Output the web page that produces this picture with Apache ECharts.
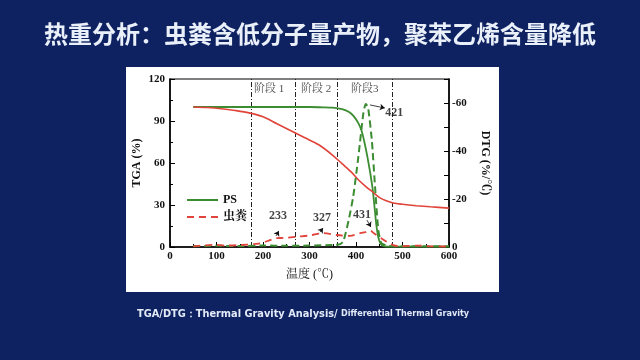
<!DOCTYPE html>
<html><head><meta charset="utf-8">
<script src="https://cdn.jsdelivr.net/npm/echarts@6/dist/echarts.min.js"></script>
<style>html,body{margin:0;padding:0;background:#0e2160;}#c{width:640px;height:360px;}</style>
</head><body><div id="c"></div>
<script>
// ---- data ----
const titleText = '热重分析：虫粪含低分子量产物，聚苯乙烯含量降低';
const footMain = 'TGA/DTG：Thermal Gravity Analysis/ ';
const footSmall = 'Differential Thermal Gravity';
const xTicks = [0, 100, 200, 300, 400, 500, 600];
const tgaTicks = [0, 30, 60, 90, 120];
const dtgTicks = [-60, -40, -20, 0];

const tempPS = [50, 100, 150, 200, 250, 300, 330, 350, 370, 385, 395, 405, 412, 418, 423, 428, 432, 436, 440, 444, 448, 452, 456, 462, 480, 520, 600];
const tgaPS  = [100, 100, 100, 100, 100, 100, 99.8, 99.5, 98.5, 96.5, 93.5, 88.5, 83, 75, 67, 58, 50, 41, 28, 15, 7, 3, 1.2, 0.5, 0.3, 0.2, 0.2];

const tempFe = [50, 80, 110, 140, 170, 200, 230, 260, 290, 320, 350, 370, 390, 405, 420, 437, 450, 465, 480, 500, 530, 560, 600];
const tgaFe  = [100, 99.6, 98.8, 97.5, 95.8, 93, 88, 83, 78, 73, 65.5, 59.5, 53.5, 48, 43.5, 39, 35.5, 33, 31.4, 30.5, 29.5, 28.7, 27.8];

const dtgTempPS = [50, 100, 150, 200, 250, 300, 350, 366, 373, 384, 394, 405, 416, 421, 426, 434, 441, 448, 455, 470, 500, 550, 600];
const dtgPS     = [-0.3, -0.5, -0.4, -0.6, -0.5, -0.6, -0.8, -1.2, -2.5, -11, -21, -37.5, -56, -59.6, -58, -44.6, -25, -7, -1.5, -0.5, -0.3, -0.3, -0.3];

const dtgTempFe = [50, 70, 93, 120, 150, 193, 210, 229, 247, 272, 300, 330, 358, 387, 409, 420, 431, 440, 466, 480, 495, 530, 560, 600];
const dtgFe     = [-0.3, -0.6, -0.9, -0.6, -0.8, -1.5, -2.5, -3.7, -3.8, -4.3, -4.8, -5.8, -5, -4.6, -5.8, -6.2, -6.8, -5.5, -2.2, -0.8, -0.3, -0.6, -0.3, -0.2];

const stageLines = [175, 270, 360, 477];
const stageNames = ['阶段 1', '阶段 2', '阶段3'];
const stageX = [213, 314, 419];
const stageY = -65.8;

const peakNames = ['233', '327', '431', '421'];
const peakLabelX = [232, 327, 413, 482];
const peakLabelY = [-13, -12.1, -13.3, -55.8];
const arrowFrom = [[228, -4.6], [322.6, -6.2], [423.6, -11.2], [430, -59.2]];
const arrowTo   = [[234, -6.7], [329, -7.9], [432, -8.3], [462, -57.9]];

// ---- chart ----
const zip = (a, b) => a.map((v, i) => [v, b[i]]);
const SERIF = "'Liberation Serif','Noto Serif CJK SC','Noto Sans CJK SC',serif";
const GREEN = '#3c8c32', RED = '#e0443a';
const chart = echarts.init(document.getElementById('c'));
const axisTxt = {color: '#111', fontFamily: SERIF, fontWeight: 'bold', fontSize: 11};

chart.setOption({
  backgroundColor: '#0e2160',
  animation: false,
  title: {text: titleText, left: 'center', top: 17,
    textStyle: {color: '#eaf0fa', fontSize: 24, fontWeight: 'bold', fontFamily: "'Noto Sans CJK SC',sans-serif"}},
  graphic: [
    {type: 'rect', z: 0, shape: {x: 126, y: 67, width: 373, height: 225}, style: {fill: '#ffffff'}},
    {type: 'text', z: 10, left: 137, top: 309, style: {
      text: '{a|' + footMain + '}{b|' + footSmall + '}',
      rich: {a: {fontSize: 9.8, fontWeight: 'bold', fill: '#e3eaf7', fontFamily: "'DejaVu Sans',sans-serif"},
             b: {fontSize: 8.1, fontWeight: 'bold', fill: '#e3eaf7', fontFamily: "'DejaVu Sans',sans-serif"}}}}
  ],
  grid: {left: 170, right: 191, top: 79, bottom: 113, show: true, borderColor: '#000', borderWidth: 1.2, backgroundColor: 'transparent', z: 5},
  legend: {orient: 'vertical', left: 181, top: 189, itemWidth: 31, itemHeight: 10, itemGap: 5,
    itemStyle: {opacity: 0},
    data: ['PS', '虫粪'], textStyle: {color: '#111', fontFamily: SERIF, fontWeight: 'bold', fontSize: 12}},
  xAxis: {type: 'value', min: 0, max: 600, interval: 100,
    name: '温度 (℃)', nameLocation: 'middle', nameGap: 22,
    nameTextStyle: {color: '#111', fontFamily: SERIF, fontSize: 12},
    axisLine: {lineStyle: {color: '#000', width: 1.5}},
    axisTick: {inside: true, length: 5, lineStyle: {color: '#000'}},
    minorTick: {show: true, splitNumber: 2, length: 3, lineStyle: {color: '#000'}},
    splitLine: {show: false},
    axisLabel: Object.assign({margin: 4, formatter: v => xTicks.includes(v) ? String(v) : ''}, axisTxt)},
  yAxis: [
    {type: 'value', min: 0, max: 120, interval: 30,
      name: 'TGA (%)', nameLocation: 'middle', nameGap: 27,
      nameTextStyle: {color: '#111', fontFamily: SERIF, fontWeight: 'bold', fontSize: 12},
      axisLine: {show: true, lineStyle: {color: '#000', width: 1.5}},
      axisTick: {inside: true, length: 5, lineStyle: {color: '#000'}},
      minorTick: {show: true, splitNumber: 2, length: 3, lineStyle: {color: '#000'}},
      splitLine: {show: false},
      axisLabel: Object.assign({margin: 5, formatter: v => tgaTicks.includes(v) ? String(v) : ''}, axisTxt)},
    {type: 'value', min: -70, max: 0, interval: 10, inverse: true, position: 'right',
      name: 'DTG (%/℃)', nameLocation: 'middle', nameGap: 30, nameRotate: -90,
      nameTextStyle: {color: '#111', fontFamily: SERIF, fontWeight: 'bold', fontSize: 12},
      axisLine: {show: true, lineStyle: {color: '#000', width: 1.5}},
      axisTick: {inside: true, length: 5, lineStyle: {color: '#000'}},
      splitLine: {show: false},
      axisLabel: Object.assign({margin: 3, formatter: v => dtgTicks.includes(v) ? String(v) : ''}, axisTxt)}
  ],
  series: [
    {name: 'PS', type: 'line', yAxisIndex: 0, data: zip(tempPS, tgaPS), symbol: 'none', smooth: 0.3, z: 6,
      lineStyle: {color: GREEN, width: 1.8}, itemStyle: {color: GREEN},
      markLine: {silent: true, symbol: 'none', label: {show: false},
        lineStyle: {color: '#222', width: 1, type: [5, 2, 1, 2]},
        data: stageLines.map(v => ({xAxis: v}))}},
    {name: '虫粪TGA', type: 'line', yAxisIndex: 0, data: zip(tempFe, tgaFe), symbol: 'none', smooth: 0.3, z: 6,
      lineStyle: {color: RED, width: 1.6}},
    {name: 'PS DTG', type: 'line', yAxisIndex: 1, data: zip(dtgTempPS, dtgPS), symbol: 'none', smooth: 0.2, z: 6,
      lineStyle: {color: GREEN, width: 2, type: [7, 4]}},
    {name: '虫粪', type: 'line', yAxisIndex: 1, data: zip(dtgTempFe, dtgFe), symbol: 'none', smooth: 0.3, z: 6,
      lineStyle: {color: RED, width: 1.8, type: [7, 5]}, itemStyle: {color: RED},
      markLine: {silent: true, symbol: ['none', 'arrow'], symbolSize: 5, label: {show: false},
        lineStyle: {color: '#111', width: 0.8, type: 'solid'},
        data: arrowFrom.map((p, i) => [{coord: p}, {coord: arrowTo[i]}])}},
    {name: 'stage', type: 'scatter', yAxisIndex: 1, symbolSize: 0, z: 8,
      data: stageNames.map((n, i) => ({value: [stageX[i], stageY], name: n})),
      label: {show: true, position: 'inside', formatter: p => p.name, color: '#222', fontSize: 11, fontFamily: SERIF}},
    {name: 'peak', type: 'scatter', yAxisIndex: 1, symbolSize: 0, z: 8,
      data: peakNames.map((n, i) => ({value: [peakLabelX[i], peakLabelY[i]], name: n})),
      label: {show: true, position: 'inside', formatter: p => p.name, color: '#111', fontSize: 12, fontWeight: 'bold', fontFamily: SERIF}}
  ]
});
</script></body></html>
